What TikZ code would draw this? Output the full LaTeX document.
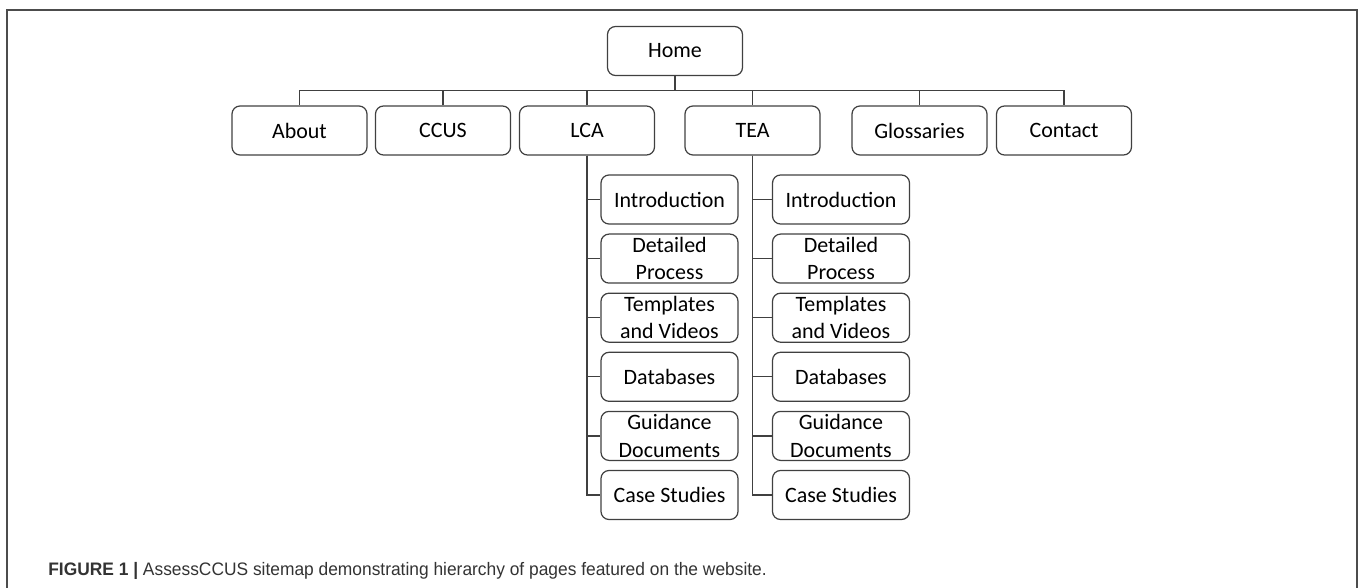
\documentclass[tikz,border=0pt]{standalone}
\usepackage{fontspec}
\setmainfont{Carlito}
\newfontfamily\capfont[FakeStretch=0.96]{Liberation Sans}
\begin{document}
\begin{tikzpicture}[x=0.02cm, y=-0.02cm]
\tikzset{
	pg/.style={draw=black!75, line width=0.7pt, rounded corners=0.16cm, minimum width=2.7cm, minimum height=0.98cm, inner sep=0pt, align=center, font=\fontsize{12.5}{15.5}\selectfont},
	sub/.style={pg, minimum width=2.74cm},
	ln/.style={draw=black!75, line width=0.7pt}
}
\useasboundingbox (0,0) rectangle (1363,588);

% frame
\draw[black!70, line width=0.8pt] (7,588) -- (7,10) -- (1357,10) -- (1357,588);

% home
\node[pg] (home) at (675,51) {Home};

% top level pages
\node[pg] (about) at (299.5,130.5) {About};
\node[pg] (ccus) at (443,130.5) {CCUS};
\node[pg] (lca) at (587,130.5) {LCA};
\node[pg] (tea) at (752.5,130.5) {TEA};
\node[pg] (gloss) at (919.5,130.5) {Glossaries};
\node[pg] (contact) at (1064,130.5) {Contact};

% LCA pages
\node[sub] (lca_1) at (669.5,199.5) {Introduction};
\node[sub] (lca_2) at (669.5,258.6) {Detailed\\Process};
\node[sub] (lca_3) at (669.5,317.7) {Templates\\and Videos};
\node[sub] (lca_4) at (669.5,376.8) {Databases};
\node[sub] (lca_5) at (669.5,435.9) {Guidance\\Documents};
\node[sub] (lca_6) at (669.5,495) {Case Studies};

% TEA pages
\node[sub] (tea_1) at (841,199.5) {Introduction};
\node[sub] (tea_2) at (841,258.6) {Detailed\\Process};
\node[sub] (tea_3) at (841,317.7) {Templates\\and Videos};
\node[sub] (tea_4) at (841,376.8) {Databases};
\node[sub] (tea_5) at (841,435.9) {Guidance\\Documents};
\node[sub] (tea_6) at (841,495) {Case Studies};

% bus under home
\coordinate (bus) at (675,90.7);
\draw[ln] (home.south) -- (bus);
\draw[ln] (about.north) |- (bus) -| (contact.north);
\draw[ln] (ccus.north) -- (ccus.north |- bus);
\draw[ln] (lca.north) -- (lca.north |- bus);
\draw[ln] (tea.north) -- (tea.north |- bus);
\draw[ln] (gloss.north) -- (gloss.north |- bus);

% LCA links
\draw[ln] (lca.south) |- (lca_1.west);
\draw[ln] (lca.south) |- (lca_2.west);
\draw[ln] (lca.south) |- (lca_3.west);
\draw[ln] (lca.south) |- (lca_4.west);
\draw[ln] (lca.south) |- (lca_5.west);
\draw[ln] (lca.south) |- (lca_6.west);

% TEA links
\draw[ln] (tea.south) |- (tea_1.west);
\draw[ln] (tea.south) |- (tea_2.west);
\draw[ln] (tea.south) |- (tea_3.west);
\draw[ln] (tea.south) |- (tea_4.west);
\draw[ln] (tea.south) |- (tea_5.west);
\draw[ln] (tea.south) |- (tea_6.west);

% caption
\node[anchor=base west, inner sep=0pt, text=black!80, font=\capfont\fontsize{10.3}{12}\selectfont] (cap) at (48,575) {{\bfseries FIGURE 1 |} AssessCCUS sitemap demonstrating hierarchy of pages featured on the website.};

\end{tikzpicture}
\end{document}
